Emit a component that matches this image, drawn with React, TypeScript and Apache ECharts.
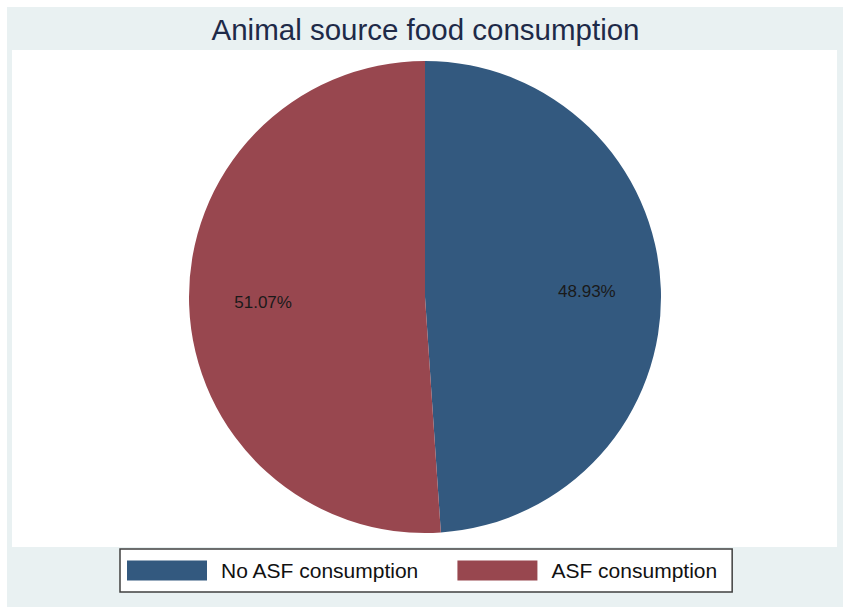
import React, { useEffect, useRef } from "react";
import * as echarts from "echarts";

const categories = ["No ASF consumption", "ASF consumption"];
const shares = [48.93, 51.07];
const colors = ["#33597F", "#98474F"];

export default function App() {
  const ref = useRef<HTMLDivElement>(null);
  useEffect(() => {
    if (!ref.current) return;
    const chart = echarts.init(ref.current, undefined, { renderer: "svg" });
    const data = categories.map((name, i) => ({
      name,
      value: shares[i],
      itemStyle: { color: colors[i] },
    }));
    chart.setOption({
      animation: false,
      backgroundColor: "#ffffff",
      title: {
        text: "Animal source food consumption",
        left: "center",
        top: 9,
        textStyle: {
          fontFamily: "Liberation Sans",
          fontSize: 29.5,
          fontWeight: "normal",
          color: "#1E2A48",
        },
      },
      graphic: [
        {
          type: "rect",
          z: -10,
          silent: true,
          shape: { x: 7, y: 7, width: 836, height: 600 },
          style: { fill: "#E9F1F2" },
        },
        {
          type: "rect",
          z: -9,
          silent: true,
          shape: { x: 12, y: 50, width: 825, height: 497 },
          style: { fill: "#ffffff" },
        },
      ],
      legend: {
        data: categories,
        left: 120,
        top: 549,
        orient: "horizontal",
        icon: "rect",
        itemWidth: 80,
        itemHeight: 20,
        itemGap: 38,
        padding: [11, 15, 11, 7],
        backgroundColor: "#ffffff",
        borderColor: "#404040",
        borderWidth: 1.5,
        borderRadius: 0,
        selectedMode: false,
        textStyle: {
          fontFamily: "Liberation Sans",
          fontSize: 21,
          color: "#111111",
          padding: [0, 0, 0, 9],
        },
      },
      series: [
        {
          type: "pie",
          center: [425, 297],
          radius: [0, 236],
          startAngle: 90,
          clockwise: true,
          label: { show: false },
          labelLine: { show: false },
          itemStyle: { borderWidth: 0 },
          emphasis: { disabled: true },
          data,
        },
        {
          type: "pie",
          center: [425, 297],
          radius: [82, 236],
          startAngle: 90,
          clockwise: true,
          silent: true,
          itemStyle: { color: "rgba(0,0,0,0)", borderWidth: 0 },
          emphasis: { disabled: true },
          label: {
            show: true,
            position: "inside",
            formatter: (p: any) => p.value.toFixed(2) + "%",
            fontFamily: "Liberation Sans",
            fontSize: 17,
            color: "#1a1a1a",
          },
          labelLine: { show: false },
          data: categories.map((name, i) => ({
            name,
            value: shares[i],
            itemStyle: { color: "rgba(0,0,0,0)" },
          })),
        },
      ],
    });
    return () => chart.dispose();
  }, []);
  return (
    <div
      ref={ref}
      style={{ position: "fixed", left: 0, top: 0, width: 851, height: 614 }}
    />
  );
}
